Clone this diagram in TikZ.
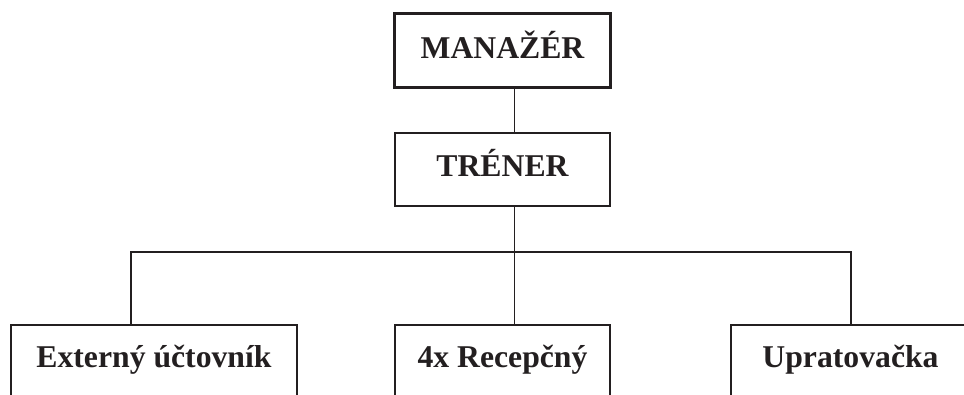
\documentclass[tikz,border=0pt]{standalone}
\usepackage{fontspec}
\setmainfont{Liberation Serif}
\definecolor{ink}{RGB}{35,31,32}
\begin{document}
\begin{tikzpicture}[x=1pt,y=-1pt,
  lbl/.style={font=\fontsize{31.7}{38}\selectfont\bfseries, text=ink, draw=ink,
    align=center, text height=22pt, inner xsep=0pt},
  topbox/.style={lbl, line width=3.2pt, text depth=6pt, inner ysep=23pt},
  midbox/.style={lbl, line width=2pt, text depth=8.5pt, inner ysep=21.5pt},
  botbox/.style={lbl, line width=2pt, text depth=15pt, inner ysep=20pt, anchor=north},
  link/.style={draw=ink, line width=1.6pt}]
\useasboundingbox (0,0) rectangle (964,394);
\node[topbox, minimum width=219pt-3.2pt, anchor=north] (m) at (502.5,10+1.6) {MANAŽÉR};
\node[midbox, minimum width=217pt-2pt, anchor=north] (t) at (502.5,130.7+1) {TRÉNER};
\node[botbox, minimum width=288pt-2pt] (e) at (154,323+1) {Externý účtovník};
\node[botbox, minimum width=217pt-2pt] (r) at (502.5,323+1) {4x Recepčný};
\node[botbox, minimum width=241pt-2pt] (u) at (850.5,323+1) {Upratovačka};
\coordinate (cx) at (514.5,0);
\coordinate (exl) at (130.7,0);
\coordinate (uxl) at (850.7,0);
\coordinate (bus) at (514.5,251.7);
\draw[link] (m.south -| cx) -- (t.north -| cx);
\draw[link] (t.south -| cx) -- (r.north -| cx);
\draw[link] (e.north -| exl) |- (bus) -| (u.north -| uxl);
\end{tikzpicture}
\end{document}
